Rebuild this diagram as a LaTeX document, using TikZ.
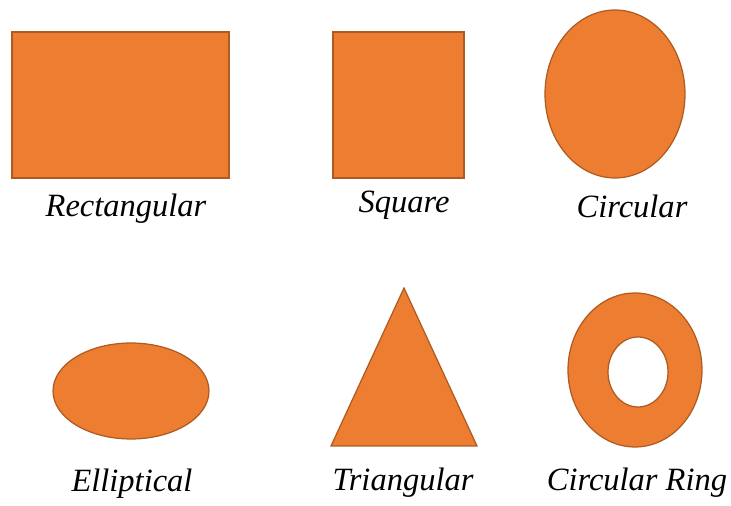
\documentclass[tikz,border=0pt]{standalone}
\usepackage{fontspec}
\setmainfont{Liberation Serif}
\usepackage{tikz}
\usetikzlibrary{positioning, shapes.geometric}
\definecolor{ShapeOrange}{RGB}{237,125,49}
\definecolor{ShapeEdge}{RGB}{174,90,33}

\begin{document}
\begin{tikzpicture}[x=0.02cm, y=-0.02cm,
	shapefill/.style={fill=ShapeOrange, draw=ShapeEdge, line width=0.7pt},
	lbl/.style={anchor=base, font=\fontsize{18.5}{20}\selectfont\itshape, inner sep=0pt}]
	\useasboundingbox (0,0) rectangle (731,506);
	% top row
	\draw[shapefill] (12,32) rectangle (229,178);
	\draw[shapefill] (333,32) rectangle (464,178);
	\draw[shapefill] (615,94) ellipse [x radius=1.40cm, y radius=1.68cm];
	\node[lbl] (rect) at (126,217) {Rectangular};
	\node[lbl] (sq) at (404,213) {Square};
	\node[lbl] (circ) at (632,218) {Circular};
	% bottom row
	\draw[shapefill] (131,391) ellipse [x radius=1.56cm, y radius=0.96cm];
	\draw[shapefill] (404,288) -- (477,446) -- (331,446) -- cycle;
	\draw[shapefill, even odd rule] (635,370) ellipse [x radius=1.34cm, y radius=1.54cm]
		(638,372) ellipse [x radius=0.6cm, y radius=0.7cm];
	\node[lbl] (ell) at (132,492) {Elliptical};
	\node[lbl] (tri) at (403,491) {Triangular};
	\node[lbl] (ring) at (637,491) {Circular Ring};
\end{tikzpicture}
\end{document}
